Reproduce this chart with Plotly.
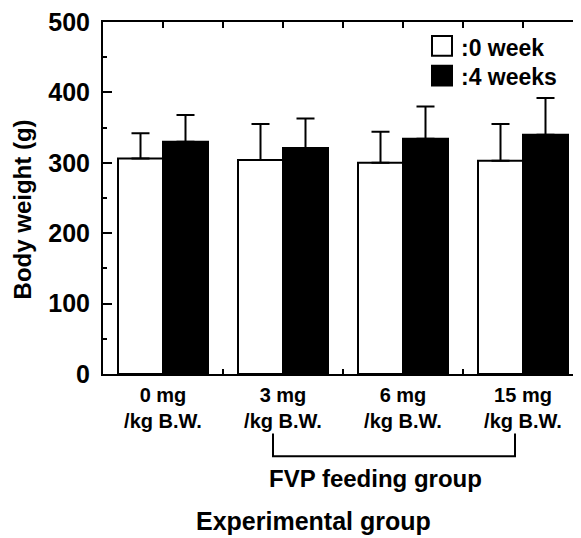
import plotly.graph_objects as go

categories = ["0 mg<br>/kg B.W.", "3 mg<br>/kg B.W.", "6 mg<br>/kg B.W.", "15 mg<br>/kg B.W."]
week0 = [306, 304, 300, 303]
week0_err = [36, 51, 44, 52]
week4 = [330, 321, 334, 340]
week4_err = [38, 42, 46, 52]
y_ticks = [0, 100, 200, 300, 400, 500]

OFF = 8  # page body margin
W, H = 581 - OFF, 538 - OFF
# plot area in reference pixels (page coords)
L, R, T, B = 103, 581, 19, 374
pw, ph = R - L, B - T

def px(x):
    return (x - L) / pw

def py(y):
    return (B - y) / ph

xpos = list(range(len(categories)))
FONT = "Liberation Sans, Arial, sans-serif"

fig = go.Figure()
fig.add_trace(go.Bar(
    x=xpos, y=week0, name=":0 week",
    marker=dict(color="white", line=dict(color="black", width=2)),
    error_y=dict(type="data", symmetric=False, array=week0_err,
                 arrayminus=[0] * len(week0), color="black", thickness=2, width=9),
))
fig.add_trace(go.Bar(
    x=xpos, y=week4, name=":4 weeks",
    marker=dict(color="black", line=dict(color="black", width=2)),
    error_y=dict(type="data", symmetric=False, array=week4_err,
                 arrayminus=[0] * len(week4), color="black", thickness=2, width=9),
))

xr = [-0.5, -0.5 + pw / 120.0]

fig.update_layout(
    width=W, height=H,
    margin=dict(l=L - OFF, r=(581 - R), t=T - OFF, b=538 - B, pad=0),
    paper_bgcolor="white", plot_bgcolor="white",
    barmode="group", bargap=0.25, bargroupgap=0,
    showlegend=False,
    font=dict(family=FONT, color="black", weight="bold"),
    xaxis=dict(
        range=xr, tickvals=xpos, ticktext=categories, ticks="",
        showline=True, linecolor="black", linewidth=2, showgrid=False, zeroline=False,
        tickfont=dict(size=20, family=FONT, weight="bold"),
        ticklabelstandoff=2, ticklabeloverflow="allow",
        minor=dict(tickvals=[0.5, 1.5, 2.5], ticks="inside", ticklen=5,
                   tickwidth=2, tickcolor="black", showgrid=False),
    ),
    xaxis2=dict(
        range=xr, overlaying="x", side="top", matches="x",
        tickvals=[0, 0.5, 1, 1.5, 2, 2.5, 3], showticklabels=False,
        ticks="inside", ticklen=6, tickwidth=2, tickcolor="black",
        showline=True, linecolor="black", linewidth=2, showgrid=False, zeroline=False,
    ),
    yaxis=dict(
        range=[0, 500], tickvals=y_ticks, ticks="inside", ticklen=9, tickwidth=2,
        tickcolor="black", showline=True, linecolor="black", linewidth=2,
        showgrid=False, zeroline=False,
        tickfont=dict(size=25, family=FONT, weight="bold"),
        ticklabelstandoff=6, ticklabeloverflow="allow",
        minor=dict(tickvals=[50, 150, 250, 350, 450], ticks="inside", ticklen=4,
                   tickwidth=2, tickcolor="black", showgrid=False),
    ),
    yaxis2=dict(
        range=[0, 500], overlaying="y", side="right", matches="y",
        tickvals=y_ticks[1:-1], showticklabels=False, ticks="inside", ticklen=6,
        tickwidth=2, tickcolor="black", showline=False, showgrid=False, zeroline=False,
        minor=dict(tickvals=[50, 150, 250, 350, 450], ticks="inside", ticklen=3,
                   tickwidth=2, tickcolor="black", showgrid=False),
    ),
)

fig.add_trace(go.Scatter(x=[None], y=[None], xaxis="x2", yaxis="y2",
                         showlegend=False, hoverinfo="skip"))

shapes = []
shapes.append(dict(type="rect", xref="paper", yref="paper",
                   x0=px(432), x1=px(452), y0=py(53), y1=py(33),
                   fillcolor="white", line=dict(color="black", width=2)))
shapes.append(dict(type="rect", xref="paper", yref="paper",
                   x0=px(432), x1=px(452), y0=py(83), y1=py(63),
                   fillcolor="black", line=dict(color="black", width=2)))
shapes.append(dict(type="path", xref="paper", yref="paper",
                   path=f"M {px(273)} {py(434)} L {px(273)} {py(457)} L {px(515)} {py(457)} L {px(515)} {py(434)}",
                   line=dict(color="black", width=2)))
fig.update_layout(shapes=shapes)

ann = []
ann.append(dict(text=":0 week", xref="paper", yref="paper", x=px(459), y=py(45),
                xanchor="left", yanchor="middle", showarrow=False,
                font=dict(size=23, family=FONT, weight="bold")))
ann.append(dict(text=":4 weeks", xref="paper", yref="paper", x=px(459), y=py(74),
                xanchor="left", yanchor="middle", showarrow=False,
                font=dict(size=23, family=FONT, weight="bold")))
ann.append(dict(text="FVP feeding group", xref="paper", yref="paper", x=px(375), y=py(479),
                xanchor="center", yanchor="middle", showarrow=False,
                font=dict(size=24, family=FONT, weight="bold")))
ann.append(dict(text="Experimental group", xref="paper", yref="paper", x=px(313), y=py(522),
                xanchor="center", yanchor="middle", showarrow=False,
                font=dict(size=25, family=FONT, weight="bold")))
ann.append(dict(text="Body weight (g)", xref="paper", yref="paper", x=px(22), y=py(208),
                xanchor="center", yanchor="middle", showarrow=False, textangle=-90,
                font=dict(size=24, family=FONT, weight="bold")))
fig.update_layout(annotations=ann)

fig.write_html("out.html")
